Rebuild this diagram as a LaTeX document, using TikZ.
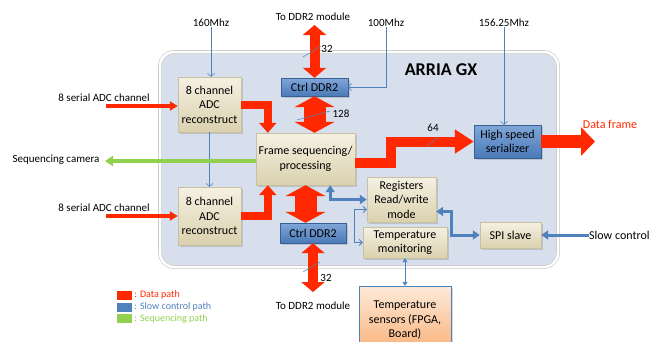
\documentclass[tikz,border=0pt]{standalone}
\usepackage{fontspec}
\setmainfont{Carlito}
\usetikzlibrary{arrows.meta,calc,shadows}

\definecolor{datared}{RGB}{255,40,0}
\definecolor{ctrlblue}{RGB}{79,129,189}
\definecolor{seqgreen}{RGB}{146,208,80}
\definecolor{arriafill}{RGB}{214,223,235}
\definecolor{beigetop}{RGB}{245,241,226}
\definecolor{beigebot}{RGB}{218,209,174}
\definecolor{beigeline}{RGB}{200,192,160}
\definecolor{ddrtop}{RGB}{128,166,216}
\definecolor{ddrbot}{RGB}{74,122,184}
\definecolor{ddrline}{RGB}{56,96,148}
\definecolor{senstop}{RGB}{253,234,218}
\definecolor{sensbot}{RGB}{249,176,118}

\begin{document}
\begin{tikzpicture}[x=1pt, y=-1pt,
    blk/.style={draw=beigeline, top color=beigetop, bottom color=beigebot,
                align=center, inner sep=1pt, font=\fontsize{12}{14.5}\selectfont,
                drop shadow={opacity=0.3, shadow xshift=1.5pt, shadow yshift=-1.5pt}},
    ddrblk/.style={blk, draw=ddrline, top color=ddrtop, bottom color=ddrbot},
    sensblk/.style={blk, draw=ctrlblue, top color=senstop, bottom color=sensbot},
    lbl/.style={font=\fontsize{11}{13}\selectfont, inner sep=0pt},
    legtxt/.style={font=\fontsize{10}{12}\selectfont, inner sep=0pt, anchor=west},
    legbox/.style={minimum width=15pt, minimum height=9pt, inner sep=0pt},
    inpath/.style={draw=datared, line width=3.5pt, -{Triangle[width=9pt,length=8pt]}},
    adcpath/.style={draw=datared, line width=8pt, -{Triangle[width=17pt,length=10pt]}},
    serpath/.style={draw=datared, line width=10pt, -{Triangle[width=23pt,length=19pt]}},
    outpath/.style={draw=datared, line width=13pt, -{Triangle[width=28pt,length=14pt]}},
    ddrbig/.style={draw=datared, line width=22pt,
                   {Triangle[width=40pt,length=11pt]}-{Triangle[width=40pt,length=11pt]}},
    ddrext/.style={draw=datared, line width=10pt,
                   {Triangle[width=23pt,length=10pt]}-{Triangle[width=23pt,length=10pt]}},
    seqpath/.style={draw=seqgreen, line width=4pt, -{Triangle[width=10pt,length=8pt]}},
    ctrlpath/.style={draw=ctrlblue, line width=3pt,
                     {Triangle[width=9pt,length=7pt]}-{Triangle[width=9pt,length=7pt]}},
    thinctrl/.style={draw=ctrlblue, line width=0.8pt,
                     {Straight Barb[length=3pt,width=6pt]}-{Straight Barb[length=3pt,width=6pt]}},
    clk/.style={draw=ctrlblue, line width=0.6pt, -{Straight Barb[length=3pt,width=7pt]}},
    tick/.style={draw=ctrlblue, line width=0.5pt}
]
\useasboundingbox (0,0) rectangle (649,341);
\clip (0,0) rectangle (649,341);

% FPGA frame
\node[draw=gray!45, double=white, double distance=2.5pt, line width=0.6pt,
      fill=arriafill, rounded corners=14pt, minimum width=398pt, minimum height=215pt]
      (arria) at (359,159.5) {};
\node[font=\bfseries\fontsize{18}{20}\selectfont, inner sep=0pt] (title) at (441,70) {ARRIA GX};

% blocks
\node[blk, minimum width=63pt, minimum height=55pt] (adcA) at (209.5,104.5) {8 channel\\ADC\\reconstruct};
\node[blk, minimum width=63pt, minimum height=58pt] (adcB) at (209.5,216) {8 channel\\ADC\\reconstruct};
\node[ddrblk, minimum width=67pt, minimum height=18pt] (ddrA) at (314.5,87) {Ctrl DDR2};
\node[ddrblk, minimum width=66pt, minimum height=20pt] (ddrB) at (313,233) {Ctrl DDR2};
\node[blk, minimum width=99pt, minimum height=52pt] (frame) at (305.5,159) {Frame sequencing/\\processing};
\node[ddrblk, minimum width=67pt, minimum height=33pt] (ser) at (507.5,141.5) {High speed\\serializer};
\node[blk, minimum width=69pt, minimum height=45pt] (regs) at (401.5,199.5) {Registers\\Read/write\\mode};
\node[blk, minimum width=84pt, minimum height=31pt] (tmon) at (405,242.5) {Temperature\\monitoring};
\node[blk, minimum width=61pt, minimum height=26pt] (spi) at (510.5,235) {SPI slave};
\node[sensblk, minimum width=92pt, minimum height=68pt] (tsens) at (405,320) {Temperature\\sensors (FPGA,\\Board)};

% outside labels
\node[lbl] (adcinA) at (104,98) {8 serial ADC channel};
\node[lbl] (adcinB) at (104,208) {8 serial ADC channel};
\node[lbl] (seqcam) at (56,160) {Sequencing camera};
\node[lbl] (clk160) at (211,23) {160Mhz};
\node[lbl] (clk100) at (386,23) {100Mhz};
\node[lbl] (clk156) at (504,23) {156.25Mhz};
\node[lbl] (ddrtop) at (313,17) {To DDR2 module};
\node[lbl] (ddrbot) at (313,306) {To DDR2 module};
\node[lbl, text=datared, font=\fontsize{12}{14}\selectfont] (dframe) at (610,124) {Data frame};
\node[lbl, anchor=west, font=\fontsize{12}{14}\selectfont] (slowctl) at (589,235) {Slow control};
\node[lbl] (w32a) at (327,49) {32};
\node[lbl] (w128) at (341,114) {128};
\node[lbl] (w32b) at (326,278) {32};
\node[lbl] (w64) at (433,128) {64};

\coordinate (inA) at (106,106);
\coordinate (inB) at (106,216);
\coordinate (seqend) at (105,161);
\coordinate (ddrtopend) at (314.5,25);
\coordinate (ddrbotend) at (313,292);
\coordinate (dfend) at (595,141.5);

% clocks
\draw[clk] (clk160.south) -- (clk160.south |- adcA.north);
\draw[clk] (adcA.south) -- (adcB.north);
\draw[clk] (clk100.south) |- (ddrA.east);
\draw[clk] (clk156.south) -- (clk156.south |- ser.north);

% data path
\draw[inpath] (inA) -- (adcA.west |- inA);
\draw[inpath] (inB) -- (adcB.west |- inB);
\draw[adcpath] (adcA.east) -| ($(frame.north west)+(12,0)$);
\draw[adcpath] (adcB.east) -| ($(frame.south west)+(12,0)$);
\draw[ddrext] (ddrtopend) -- (ddrA.north);
\draw[ddrbig] (ddrA.south) -- (ddrA.south |- frame.north);
\draw[ddrbig] (frame.south) -- (frame.south |- ddrB.north);
\draw[ddrext] (ddrB.south) -- (ddrbotend);
\draw[serpath] ($(frame.east)+(0,4)$) -- ++(36,0) |- (ser.west);
\draw[outpath] (ser.east) -- (dfend);

% bus widths
\draw[tick] (303,57) -- (321,46);
\draw[tick] (297,120) -- (330,111);
\draw[tick] (303,272) -- (320,262);
\draw[tick] (427,147) -- (438,137);

% sequencing path
\draw[seqpath] ($(frame.west)+(0,2)$) -- (seqend);

% slow control
\draw[ctrlpath] ($(frame.south east)+(-25,0)$) |- (regs.west);
\draw[ctrlpath] ($(regs.east)+(0,12)$) -- ++(15,0) |- (spi.west);
\draw[ctrlpath, {Triangle[width=9pt,length=7pt]}-] (spi.east) -- (slowctl.west);
\draw[thinctrl] ($(regs.west)+(0,10)$) -- ++(-12,0) |- (tmon.west);
\draw[draw=ctrlblue, line width=0.9pt, {Triangle[width=5pt,length=4pt]}-{Triangle[width=5pt,length=4pt]}]
    (tmon.south) -- (tsens.north);

% legend
\node[legbox, fill=datared] (legA) at (124.5,295) {};
\node[legbox, fill=ctrlblue] (legB) at (124.5,307) {};
\node[legbox, fill=seqgreen] (legC) at (124.5,318.5) {};
\node[legtxt, text=datared] at ($(legA.east)+(2,0)$) {: Data path};
\node[legtxt, text=ctrlblue] at ($(legB.east)+(2,0)$) {: Slow control path};
\node[legtxt, text=seqgreen] at ($(legC.east)+(2,0)$) {: Sequencing path};
\end{tikzpicture}
\end{document}
